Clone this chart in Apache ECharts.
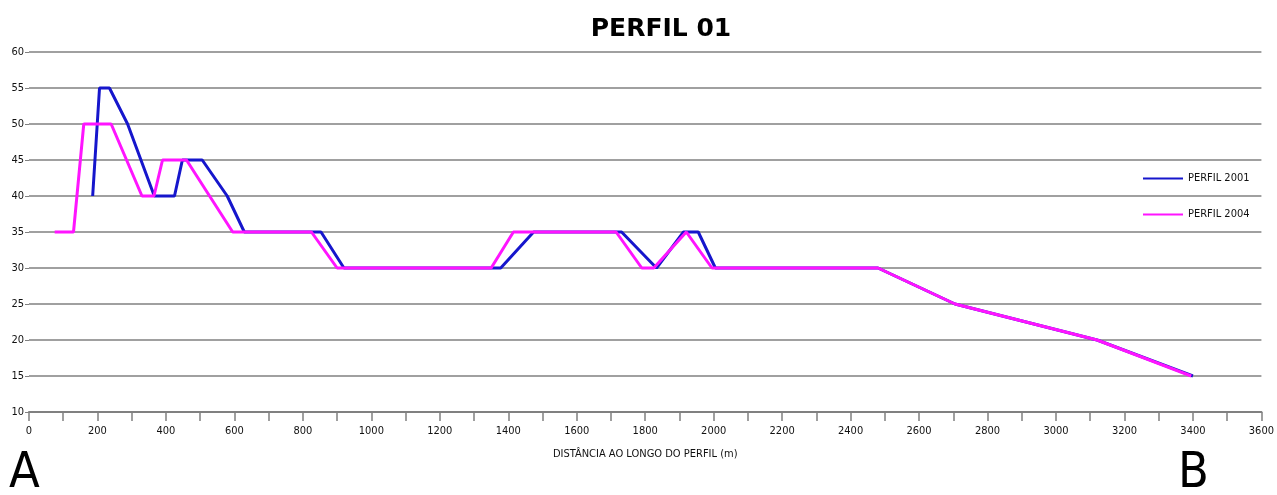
<!DOCTYPE html>
<html>
<head>
<meta charset="utf-8">
<script src="https://cdn.jsdelivr.net/npm/echarts@6/dist/echarts.min.js"></script>
<style>
  html, body { margin: 0; padding: 0; background: #fff; }
  #main { width: 1277px; height: 495px; }
</style>
</head>
<body>
<div id="main"></div>
<script>
// distances (m) and elevations
const dist2001 = [186, 206, 235, 288, 366, 425, 448, 506, 579, 629, 853, 920, 1378, 1474, 1731, 1833, 1912, 1955, 2005, 2480, 2705, 3120, 3400];
const elev2001 = [40, 55, 55, 50, 40, 40, 45, 45, 40, 35, 35, 30, 30, 35, 35, 30, 35, 35, 30, 30, 25, 20, 15];

const dist2004 = [75, 130, 160, 240, 330, 365, 390, 460, 595, 825, 900, 1350, 1415, 1715, 1790, 1825, 1920, 1995, 2480, 2705, 3120, 3395];
const elev2004 = [35, 35, 50, 50, 40, 40, 45, 45, 35, 35, 30, 30, 35, 35, 30, 30, 35, 30, 30, 25, 20, 15];

const seriesNames = ["PERFIL 2001", "PERFIL 2004"];
const seriesColors = ["#1616cc", "#ff14ff"];

const pairs = (xs, ys) => xs.map((x, i) => [x, ys[i]]);

const chart = echarts.init(document.getElementById("main"));
const smallFont = "'Liberation Sans Narrow', 'DejaVu Sans Condensed', 'Liberation Sans', sans-serif";

const option = {
  backgroundColor: "#fff",
  animation: false,
  title: {
    text: "PERFIL 01",
    left: 656,
    top: 12,
    textAlign: "center",
    textStyle: {
      fontFamily: "'DejaVu Sans', sans-serif",
      fontWeight: "bold",
      fontSize: 25,
      color: "#000"
    }
  },
  legend: {
    orient: "vertical",
    left: 1138,
    top: 168,
    itemGap: 25,
    itemWidth: 40,
    itemHeight: 10,
    icon: "path://M0,4 L40,4 L40,6 L0,6 Z",
    textStyle: { fontFamily: smallFont, fontSize: 11, color: "#111" },
    data: seriesNames
  },
  grid: { left: 29, right: 13, top: 52, bottom: 83 },
  xAxis: {
    type: "value",
    min: 0,
    max: 3600,
    interval: 100,
    name: "DISTÂNCIA AO LONGO DO PERFIL (m)",
    nameLocation: "middle",
    nameGap: 37,
    nameTextStyle: { fontFamily: smallFont, fontSize: 11, color: "#111" },
    axisLine: { lineStyle: { color: "#808080", width: 2 } },
    axisTick: { show: true, inside: false, length: 9, lineStyle: { color: "#808080", width: 1.5 } },
    axisLabel: {
      fontFamily: smallFont,
      fontSize: 11,
      color: "#111",
      margin: 14,
      formatter: (v) => (v % 200 === 0 ? String(v) : "")
    },
    splitLine: { show: false }
  },
  yAxis: {
    type: "value",
    min: 10,
    max: 60,
    interval: 5,
    axisLine: { show: false },
    axisTick: { show: true, length: 4, lineStyle: { color: "#808080" } },
    axisLabel: { fontFamily: smallFont, fontSize: 11, color: "#111", margin: 5 },
    splitLine: { lineStyle: { color: "#a0a0a0", width: 2 } }
  },
  graphic: [
    {
      type: "text",
      left: 9,
      top: 449,
      style: { text: "A", font: "50px 'DejaVu Sans Condensed', 'DejaVu Sans', sans-serif", fill: "#000" }
    },
    {
      type: "text",
      left: 1178,
      top: 449,
      style: { text: "B", font: "50px 'DejaVu Sans Condensed', 'DejaVu Sans', sans-serif", fill: "#000" }
    }
  ],
  series: [
    {
      name: seriesNames[0],
      type: "line",
      data: pairs(dist2001, elev2001),
      showSymbol: false,
      lineStyle: { color: seriesColors[0], width: 3 },
      itemStyle: { color: seriesColors[0] },
      z: 2
    },
    {
      name: seriesNames[1],
      type: "line",
      data: pairs(dist2004, elev2004),
      showSymbol: false,
      lineStyle: { color: seriesColors[1], width: 3 },
      itemStyle: { color: seriesColors[1] },
      z: 3
    }
  ]
};

chart.setOption(option);
</script>
</body>
</html>
